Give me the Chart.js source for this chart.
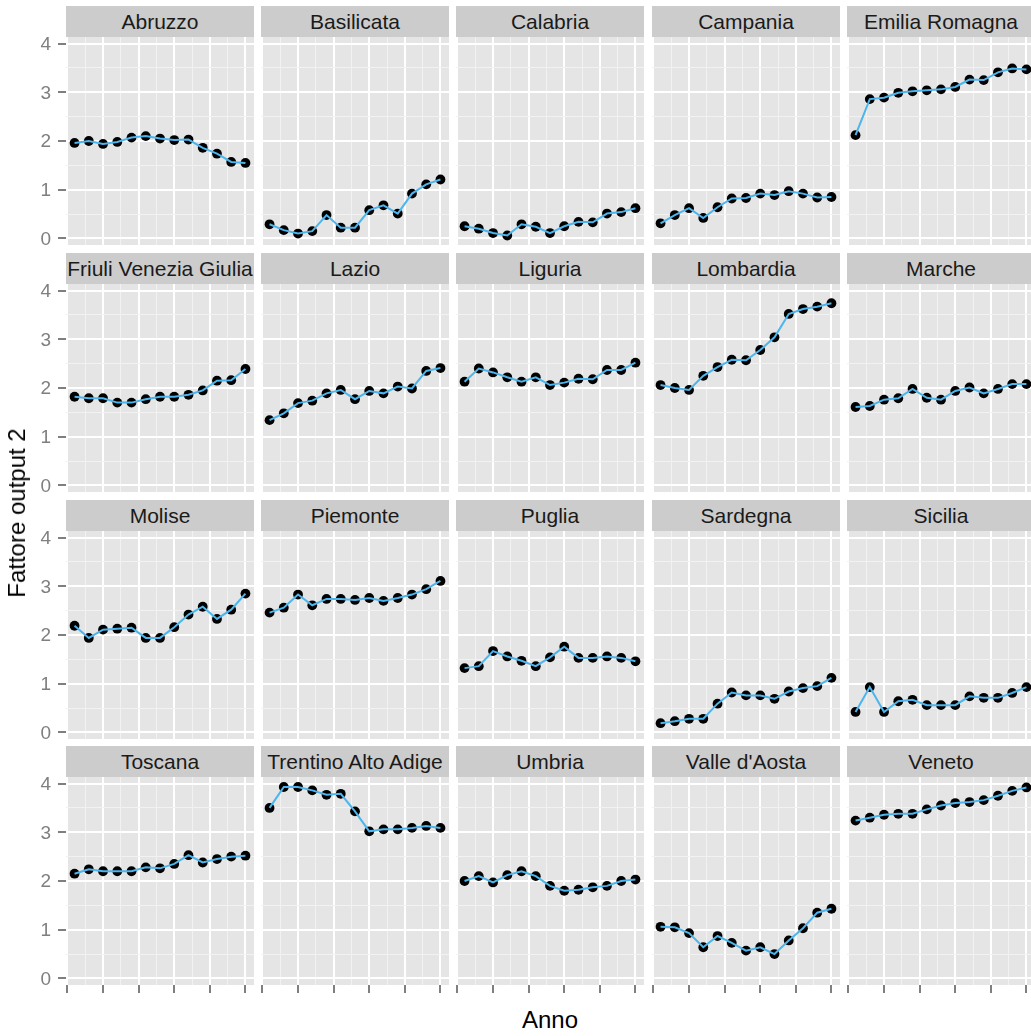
<!DOCTYPE html>
<html>
<head>
<meta charset="utf-8">
<script src="https://cdn.jsdelivr.net/npm/chart.js@4.4.1/dist/chart.umd.min.js"></script>
<style>
  body { margin:0; background:#fff; width:1031px; height:1036px; overflow:hidden; position:relative;
         font-family:"Liberation Sans", Arial, sans-serif; }
  canvas { position:absolute; }
  .strip { position:absolute; background:#CCCCCC; color:#1A1A1A; font-size:21px; text-align:center;
           white-space:nowrap; overflow:hidden; }
  .axtitle { position:absolute; color:#000; font-size:24px; white-space:nowrap; line-height:1; }
</style>
</head>
<body>
<script>
// regions, in facet order (5 columns x 4 rows)
const regioni = ["Abruzzo", "Basilicata", "Calabria", "Campania", "Emilia Romagna",
  "Friuli Venezia Giulia", "Lazio", "Liguria", "Lombardia", "Marche",
  "Molise", "Piemonte", "Puglia", "Sardegna", "Sicilia",
  "Toscana", "Trentino Alto Adige", "Umbria", "Valle d'Aosta", "Veneto"];

// 13 years per region, x = position of the year
const anni = [0, 1, 2, 3, 4, 5, 6, 7, 8, 9, 10, 11, 12];

const abruzzo    = [1.96, 2.00, 1.94, 1.98, 2.07, 2.10, 2.05, 2.02, 2.03, 1.86, 1.74, 1.57, 1.55];
const basilicata = [0.29, 0.17, 0.10, 0.15, 0.48, 0.22, 0.22, 0.58, 0.68, 0.51, 0.92, 1.11, 1.21];
const calabria   = [0.25, 0.20, 0.11, 0.06, 0.29, 0.24, 0.11, 0.25, 0.34, 0.33, 0.51, 0.54, 0.62];
const campania   = [0.31, 0.48, 0.62, 0.42, 0.64, 0.82, 0.83, 0.92, 0.89, 0.97, 0.92, 0.84, 0.85];
const emilia     = [2.12, 2.86, 2.89, 2.99, 3.02, 3.04, 3.06, 3.11, 3.26, 3.25, 3.41, 3.49, 3.47];
const friuli     = [1.82, 1.79, 1.79, 1.70, 1.70, 1.77, 1.82, 1.82, 1.86, 1.95, 2.15, 2.16, 2.39];
const lazio      = [1.34, 1.48, 1.69, 1.74, 1.89, 1.96, 1.77, 1.94, 1.89, 2.03, 1.99, 2.35, 2.41];
const liguria    = [2.13, 2.40, 2.32, 2.22, 2.13, 2.22, 2.06, 2.11, 2.19, 2.18, 2.37, 2.37, 2.52];
const lombardia  = [2.06, 2.00, 1.96, 2.25, 2.43, 2.58, 2.57, 2.78, 3.04, 3.52, 3.62, 3.67, 3.74];
const marche     = [1.61, 1.63, 1.76, 1.79, 1.98, 1.80, 1.76, 1.94, 2.01, 1.89, 1.98, 2.08, 2.08];
const molise     = [2.19, 1.94, 2.11, 2.13, 2.15, 1.94, 1.94, 2.16, 2.42, 2.58, 2.33, 2.52, 2.85];
const piemonte   = [2.46, 2.56, 2.83, 2.61, 2.74, 2.74, 2.72, 2.76, 2.70, 2.76, 2.83, 2.94, 3.11];
const puglia     = [1.32, 1.36, 1.67, 1.56, 1.47, 1.36, 1.54, 1.76, 1.53, 1.53, 1.56, 1.53, 1.46];
const sardegna   = [0.19, 0.23, 0.28, 0.28, 0.59, 0.82, 0.76, 0.76, 0.69, 0.84, 0.91, 0.95, 1.12];
const sicilia    = [0.42, 0.93, 0.42, 0.64, 0.67, 0.56, 0.56, 0.56, 0.74, 0.71, 0.71, 0.81, 0.93];
const toscana    = [2.15, 2.24, 2.20, 2.20, 2.20, 2.28, 2.26, 2.35, 2.53, 2.38, 2.45, 2.50, 2.52];
const trentino   = [3.50, 3.93, 3.93, 3.86, 3.77, 3.79, 3.43, 3.02, 3.06, 3.06, 3.09, 3.13, 3.09];
const umbria     = [2.00, 2.10, 1.97, 2.12, 2.20, 2.10, 1.90, 1.80, 1.82, 1.87, 1.90, 2.00, 2.03];
const valle      = [1.06, 1.05, 0.93, 0.64, 0.87, 0.73, 0.57, 0.64, 0.50, 0.78, 1.03, 1.35, 1.43];
const veneto     = [3.24, 3.30, 3.36, 3.38, 3.38, 3.47, 3.55, 3.60, 3.62, 3.66, 3.75, 3.85, 3.92];

const serie = [abruzzo, basilicata, calabria, campania, emilia,
  friuli, lazio, liguria, lombardia, marche,
  molise, piemonte, puglia, sardegna, sicilia,
  toscana, trentino, umbria, valle, veneto];

const yTickLabels = [0, 1, 2, 3, 4];
const yMinor = [0.5, 1.5, 2.5, 3.5];
const xMajor = [-0.5, 2, 4.5, 7, 9.5, 12];
const xMinor = [0.75, 3.25, 5.75, 8.25, 10.75];

// layout of the facet grid
const NCOL = 5;
const PANEL_W = 188, PANEL_H = 208, STRIP_H = 31;
const colLeft = c => Math.round(66 + c * 195.2);
const rowTop = r => Math.round(6 + r * 246.8);
const AXIS_W = 46, TICK_H = 9;
const FONT = '"Liberation Sans", Arial, sans-serif';

const panelBg = {
  id: 'panelBg',
  beforeDraw(chart) {
    const { ctx, chartArea: a } = chart;
    ctx.save();
    ctx.fillStyle = '#E5E5E5';
    ctx.fillRect(a.left, a.top, a.right - a.left, a.bottom - a.top);
    ctx.restore();
  }
};

// y tick labels of the first column, placed with the y scale
const yLabels = {
  id: 'yLabels',
  afterDraw(chart) {
    const { ctx, chartArea: a } = chart;
    const y = chart.scales.y;
    ctx.save();
    ctx.fillStyle = '#7F7F7F';
    ctx.font = '19px ' + FONT;
    ctx.textAlign = 'right';
    ctx.textBaseline = 'middle';
    yTickLabels.forEach(v => ctx.fillText(String(v), a.left - 15, y.getPixelForValue(v) + 1));
    ctx.restore();
  }
};

const isMajorX = v => xMajor.includes(v);
const isMajorY = v => yTickLabels.includes(v);

regioni.forEach((nome, i) => {
  const c = i % NCOL, r = Math.floor(i / NCOL);
  const firstCol = c === 0, lastRow = r === 3;
  const left = colLeft(c), top = rowTop(r);

  const strip = document.createElement('div');
  strip.className = 'strip';
  strip.textContent = nome;
  Object.assign(strip.style, {
    left: left + 'px', top: top + 'px', width: PANEL_W + 'px',
    height: STRIP_H + 'px', lineHeight: STRIP_H + 'px'
  });
  document.body.appendChild(strip);

  const canvas = document.createElement('canvas');
  const padL = firstCol ? AXIS_W : 0;
  const padB = lastRow ? TICK_H : 0;
  const w = PANEL_W + padL, h = PANEL_H + padB;
  canvas.width = w; canvas.height = h;
  canvas.style.left = (left - padL) + 'px';
  canvas.style.top = (top + STRIP_H) + 'px';
  canvas.style.width = w + 'px'; canvas.style.height = h + 'px';
  document.body.appendChild(canvas);

  const punti = anni.map((x, k) => ({ x: x, y: serie[i][k] }));

  new Chart(canvas, {
    type: 'line',
    data: {
      datasets: [
        { data: punti, borderColor: '#4BB5EE', borderWidth: 2, pointRadius: 0, tension: 0, order: 0 },
        { data: punti, showLine: false, pointRadius: 4.9, pointBorderWidth: 0,
          pointBackgroundColor: '#000000', order: 1 }
      ]
    },
    options: {
      responsive: false,
      animation: false,
      events: [],
      layout: { padding: { left: padL, bottom: padB, top: 0, right: 0 }, autoPadding: false },
      plugins: { legend: { display: false }, tooltip: { enabled: false } },
      scales: {
        x: {
          type: 'linear', min: -0.6, max: 12.6,
          afterBuildTicks: ax => { ax.ticks = xMajor.concat(xMinor).map(v => ({ value: v })); },
          afterFit: ax => { ax.height = 0; },
          ticks: { display: false },
          border: { display: false },
          grid: {
            color: ctx => isMajorX(ctx.tick.value) ? '#FFFFFF' : '#F2F2F2',
            lineWidth: ctx => isMajorX(ctx.tick.value) ? 2 : 1,
            drawTicks: lastRow,
            tickLength: 8,
            tickWidth: 2,
            tickColor: ctx => isMajorX(ctx.tick.value) ? '#7F7F7F' : 'rgba(0,0,0,0)'
          }
        },
        y: {
          type: 'linear', min: -0.135, max: 4.135,
          afterBuildTicks: ax => { ax.ticks = yTickLabels.concat(yMinor).map(v => ({ value: v })); },
          afterFit: ax => { ax.width = 0; },
          ticks: { display: false },
          border: { display: false },
          grid: {
            color: ctx => isMajorY(ctx.tick.value) ? '#FFFFFF' : '#F2F2F2',
            lineWidth: ctx => isMajorY(ctx.tick.value) ? 2 : 1,
            drawTicks: firstCol,
            tickLength: 8,
            tickWidth: 2,
            tickColor: ctx => isMajorY(ctx.tick.value) ? '#7F7F7F' : 'rgba(0,0,0,0)'
          }
        }
      }
    },
    plugins: firstCol ? [panelBg, yLabels] : [panelBg]
  });
});

// axis titles
const xt = document.createElement('div');
xt.className = 'axtitle';
xt.textContent = 'Anno';
Object.assign(xt.style, { left: '550px', top: '1020px', transform: 'translate(-50%, -50%)' });
document.body.appendChild(xt);

const yt = document.createElement('div');
yt.className = 'axtitle';
yt.textContent = 'Fattore output 2';
Object.assign(yt.style, { left: '17px', top: '513px', transform: 'translate(-50%, -50%) rotate(-90deg)' });
document.body.appendChild(yt);
</script>
</body>
</html>
